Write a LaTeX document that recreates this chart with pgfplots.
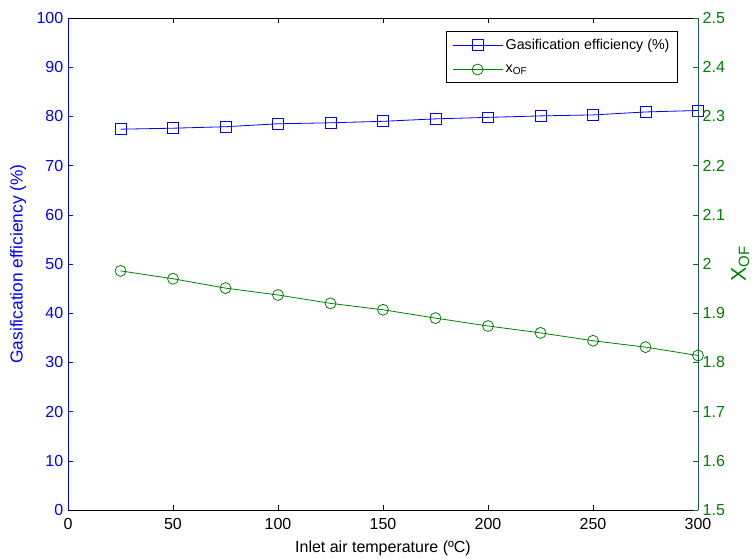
\documentclass[border=0pt]{standalone}
\usepackage{fontspec}
\setmainfont{Liberation Sans}
\usepackage{pgfplots}
\pgfplotsset{compat=1.18}
\usetikzlibrary{calc}
\definecolor{mblue}{RGB}{0,0,255}
\definecolor{mgreen}{RGB}{0,128,0}
\definecolor{mspine}{RGB}{33,84,102}
\begin{document}
\begin{tikzpicture}
\pgfplotsset{
  every axis/.append style={
    scale only axis, width=472.5pt, height=369pt,
    xmin=0, xmax=300, clip=false,
    /pgf/number format/assume math mode=true,
    tick label style={font=\fontsize{12}{14}\selectfont},
    label style={font=\fontsize{12}{14}\selectfont},
    major tick length=3.5pt,
    tick align=inside,
  }
}
\begin{axis}[
  name=ax,
  ymin=0, ymax=100,
  xtick={0,50,...,300},
  ytick={0,10,...,100},
  axis y line*=left,
  y axis line style={color=mblue},
  ytick style={color=mblue},
  yticklabel style={color=mblue},
  xtick style={color=black},
  xticklabel style={color=black, yshift=-2.5pt},
  ylabel={Gasification efficiency (\%)},
  ylabel style={color=mblue, font=\fontsize{13}{15}\selectfont, at={(axis description cs:-0.079,0.5)}, anchor=center, rotate=0},
  xlabel={Inlet air temperature (ºC)},
  xlabel style={at={(axis description cs:0.5,-0.077)}, anchor=center},
]
\addplot[color=mblue, line width=0.6pt, mark=square, mark size=4.1pt, mark options={color=mblue, line width=0.6pt}] coordinates {
(25,77.4) (50,77.6) (75,77.9) (100,78.5) (125,78.7) (150,79.0)
(175,79.5) (200,79.8) (225,80.1) (250,80.3) (275,80.9) (300,81.2)
};
\end{axis}
\begin{axis}[
  at={(ax.south west)}, anchor=south west,
  ymin=1.5, ymax=2.5,
  axis x line=none,
  axis y line*=right,
  y axis line style={color=mspine},
  ytick={1.5,1.6,1.7,1.8,1.9,2.0,2.1,2.2,2.3,2.4,2.5},
  ytick style={color=mgreen},
  yticklabel style={color=mgreen},
  ylabel={X\textsubscript{OF}},
  ylabel style={color=mgreen, font=\fontsize{16}{18}\selectfont, at={(axis description cs:1.067,0.5)}, anchor=center, rotate=0},
  legend style={at={(0.968,0.974)}, anchor=north east, draw=black, line width=0.5pt,
    font=\fontsize{10.7}{12}\selectfont, row sep=6pt, inner sep=4pt},
  legend cell align=left,
  legend image code/.code={\draw[mark repeat=2,mark phase=2,#1] plot coordinates {(0cm,0cm) (0.66cm,0cm) (1.32cm,0cm)};},
]
\addlegendimage{color=mblue, line width=0.6pt, mark=square, mark size=4.1pt, mark options={color=mblue, line width=0.6pt}}
\addlegendentry{Gasification efficiency (\%)}
\addplot[color=mgreen, line width=0.6pt, mark=o, mark size=4.1pt, mark options={color=mgreen, line width=0.6pt}] coordinates {
(25,1.986) (50,1.970) (75,1.951) (100,1.937) (125,1.920) (150,1.907)
(175,1.890) (200,1.874) (225,1.860) (250,1.844) (275,1.831) (300,1.814)
};
\addlegendentry{x\textsubscript{OF}}
\end{axis}
\pgfresetboundingbox
\path ($(ax.south west)+(-51pt,-36.75pt)$) rectangle ($(ax.north east)+(40.5pt,13.5pt)$);
\end{tikzpicture}
\end{document}
